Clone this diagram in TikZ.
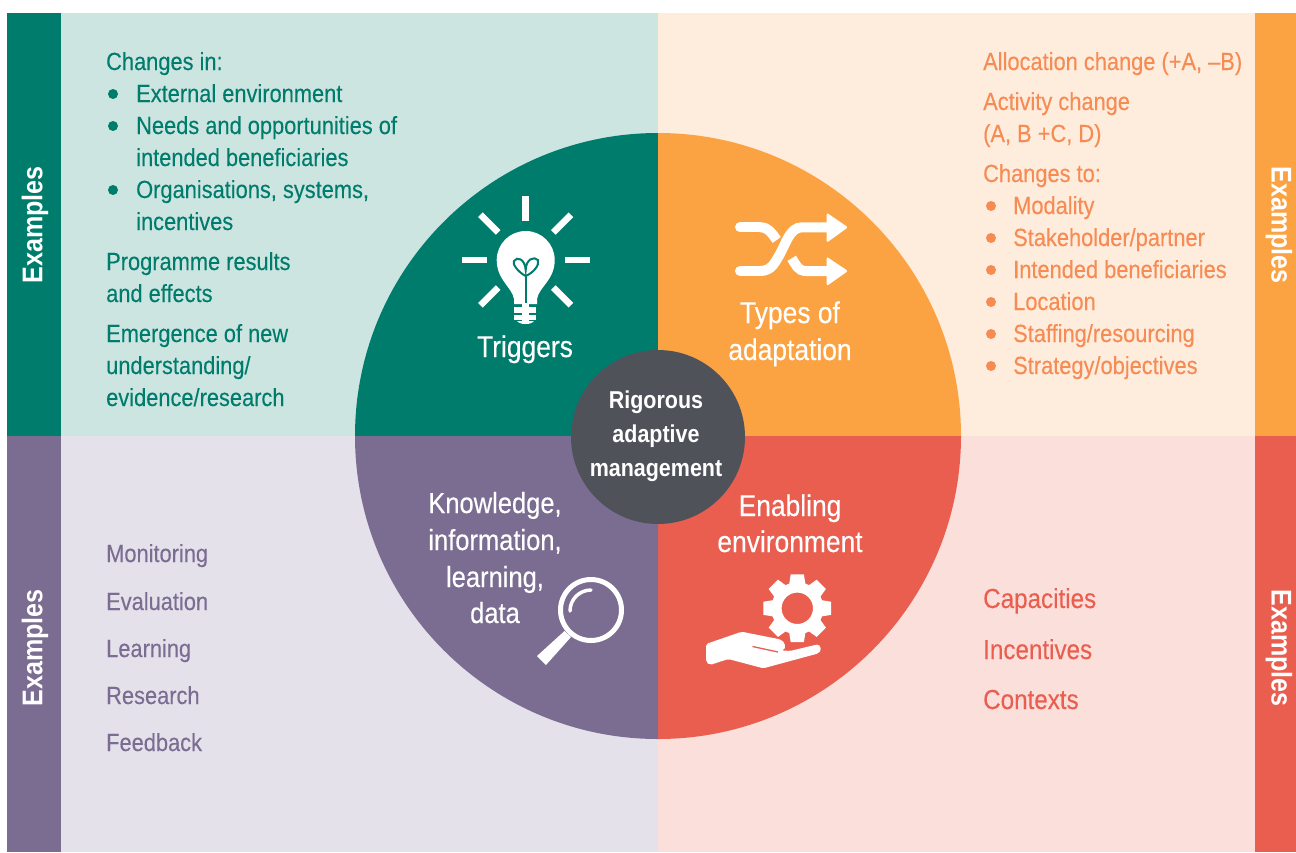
\documentclass[tikz,border=0pt]{standalone}
\usepackage{fontspec}
\usetikzlibrary{calc}
\setmainfont{Liberation Sans}[FakeStretch=0.88]
\definecolor{trigdark}{HTML}{007C6C}
\definecolor{triglight}{HTML}{CDE5E1}
\definecolor{typedark}{HTML}{FBA343}
\definecolor{typelight}{HTML}{FEECDC}
\definecolor{typetext}{HTML}{F68B54}
\definecolor{knowdark}{HTML}{7B6C92}
\definecolor{knowlight}{HTML}{E4E1EB}
\definecolor{envdark}{HTML}{EA5E50}
\definecolor{envlight}{HTML}{FBDFDB}
\definecolor{hubdark}{HTML}{50525A}
\tikzset{
  listtext/.style={anchor=base west,inner sep=0pt,font=\fontsize{24.8}{30}\selectfont\addfontfeature{FakeBold=0.15}},
  wheeltext/.style={anchor=base,inner sep=0pt,text=white,font=\fontsize{30}{34}\selectfont\addfontfeature{FakeBold=0.3}},
  hubtext/.style={anchor=base,inner sep=0pt,text=white,font=\bfseries\fontsize{24.4}{28}\selectfont},
  sidetext/.style={inner sep=0pt,text=white,font=\bfseries\fontsize{28.5}{32}\selectfont}
}
\begin{document}
\begin{tikzpicture}[x=1pt,y=-1pt]
\useasboundingbox(0,0)rectangle(1296,852);
%panels
\fill[triglight](61,13)rectangle(658,436);
\fill[typelight](658,13)rectangle(1255,436);
\fill[knowlight](61,436)rectangle(658,852);
\fill[envlight](658,436)rectangle(1255,852);
%side bars
\fill[trigdark](7,13)rectangle(61,436);
\fill[knowdark](7,436)rectangle(61,852);
\fill[typedark](1255,13)rectangle(1296,436);
\fill[envdark](1255,436)rectangle(1296,852);
\node[sidetext,rotate=90](sidea)at(35,225){Examples};
\node[sidetext,rotate=90](sideb)at(35,648){Examples};
\node[sidetext,rotate=-90](sidec)at(1279,225){Examples};
\node[sidetext,rotate=-90](sided)at(1279,648){Examples};
%wheel
\fill[trigdark](658,436)--(355,436)arc[start angle=180,end angle=270,radius=303]--cycle;
\fill[typedark](658,436)--(658,133)arc[start angle=270,end angle=360,radius=303]--cycle;
\fill[envdark](658,436)--(961,436)arc[start angle=0,end angle=90,radius=303]--cycle;
\fill[knowdark](658,436)--(658,739)arc[start angle=90,end angle=180,radius=303]--cycle;
\fill[hubdark](658,437)circle(87);
%top left list
\foreach \y/\x/\t [count=\i] in {70/106/Changes in:,102/136/External environment,134/136/Needs and opportunities of,166/136/intended beneficiaries,198/136/{Organisations, systems,},230/136/incentives,270/106/Programme results,302/106/and effects,342/106/Emergence of new,374/106/{understanding/},406/106/{evidence/research}}{
\node[listtext,text=trigdark](trig\i)at(\x,\y){\t};
}
\foreach \y in {94,126,190}{
\fill[trigdark](113,\y)circle(5);
}
%top right list
\foreach \y/\x/\t [count=\i] in {70/983/{Allocation change (+A, --B)},110/983/Activity change,142/983/{(A, B +C, D)},182/983/Changes to:,214/1013/Modality,246/1013/{Stakeholder/partner},278/1013/Intended beneficiaries,310/1013/Location,342/1013/{Staffing/resourcing},374/1013/{Strategy/objectives}}{
\node[listtext,text=typetext](type\i)at(\x,\y){\t};
}
\foreach \y in {206,238,270,302,334,366}{
\fill[typetext](991,\y)circle(5);
}
%bottom lists
\foreach \y/\t [count=\i] in {562/Monitoring,610/Evaluation,657/Learning,704/Research,751/Feedback}{
\node[listtext,text=knowdark](know\i)at(106,\y){\t};
}
\foreach \y/\t [count=\i] in {608/Capacities,659/Incentives,709/Contexts}{
\node[listtext,text=envdark,font=\fontsize{27.5}{32}\selectfont\addfontfeature{FakeBold=0.15}](env\i)at(983,\y){\t};
}
%wheel labels
\node[wheeltext](trigger)at(525,357){Triggers};
\node[wheeltext](typea)at(790,323){Types of};
\node[wheeltext](typeb)at(790,360){adaptation};
\node[wheeltext](enva)at(790,516){Enabling};
\node[wheeltext](envb)at(790,552){environment};
\foreach \y/\t [count=\i] in {513/{Knowledge,},550/{information,},587/{learning,},623/data}{
\node[wheeltext,font=\fontsize{29}{34}\selectfont\addfontfeature{FakeBold=0.3}](wheelk\i)at(495,\y){\t};
}
\node[hubtext](huba)at(656,408){Rigorous};
\node[hubtext](hubb)at(656,442){adaptive};
\node[hubtext](hubc)at(656,476){management};
%bulb rays
\foreach \a in {0,45,...,315}{
\draw[white,line width=6.5pt]($(525.7,260)+(\a:39)$)--($(525.7,260)+(\a:64)$);
}
%bulb
\fill[white](514,304)--(514,299)..controls(512,287)and(496.7,280)..(496.7,260)arc[start angle=180,end angle=360,radius=29]..controls(554.7,280)and(539,287)..(537,299)--(537,304)--cycle;
\fill[white](514,306.7)rectangle(536,312.5);
\fill[white](514,314.5)rectangle(536,319.5);
\fill[white](517,321)..controls(520,325)and(531,325)..(534,321)--cycle;
\draw[trigdark,line width=2pt](525.7,303)--(525.7,275);
\draw[trigdark,line width=2pt](525.7,276)..controls(518,272)and(512,264)..(514,261)..controls(517,256)and(525,259)..(525.7,270)..controls(526,259)and(534,256)..(538,260)..controls(540,265)and(533,273)..(525.7,276);
%shuffle
\draw[white,line width=10pt,line cap=round](740,227.3)--(760,227.3);
\draw[white,line width=10pt](760,227.3)..controls(768,227.3)and(771,232)..(776.7,240);
\draw[white,line width=10pt,line cap=round](740,271)--(760,271);
\draw[white,line width=10pt](760,271)..controls(772,271)and(775,262)..(780,254)..controls(786,243)and(790,227.3)..(802,227.3)--(830,227.3);
\draw[white,line width=10pt](791.7,258.3)..controls(796,265)and(798,271)..(806,271)--(830,271);
\fill[white,rounded corners=2pt](826.7,212.7)--(848,227.3)--(826.7,242.7)--cycle;
\fill[white,rounded corners=2pt](826.7,256.7)--(848,271)--(826.7,286)--cycle;
%magnifier
\draw[white,line width=5pt](591,610)circle(30.5);
\draw[white,line width=3.5pt,line cap=round](570,611)arc[start angle=180,end angle=270,radius=21];
\fill[white](564.5,631)--(571,637)--(546,665)--(537,656)--cycle;
%gear
\begin{scope}[shift={(797.3,608.3)}]
\fill[white,even odd rule](0,0)circle(15.7)(-18:26)\foreach \a in {0,45,...,315}{--(\a-18:26)--(\a-11:34.5)--(\a+11:34.5)--(\a+18:26)}--cycle;
\end{scope}
%hand
\fill[white,rounded corners=2pt](706,644)--(741.7,631.7)--(778.3,639)..controls(785,641)and(787,649)..(781,650.3)--(790,651)--(815,645)..controls(821,644)and(823,652)..(815,654.3)--(763.3,668.3)--(728.3,659)--(710,665)--(706,662)--cycle;
\draw[envdark,line width=1.3pt](752.5,646.5)--(778,652);
\end{tikzpicture}
\end{document}
